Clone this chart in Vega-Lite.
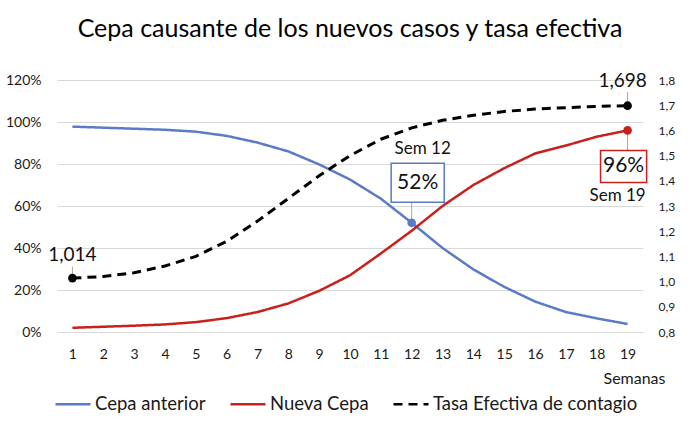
{
  "$schema": "https://vega.github.io/schema/vega-lite/v6.json",
  "width": 586,
  "height": 252,
  "autosize": {"type": "none"},
  "padding": {"left": 57, "top": 80, "right": 57, "bottom": 98},
  "background": "white",
  "title": {
    "text": "Cepa causante de los nuevos casos y tasa efectiva",
    "fontSize": 25,
    "fontWeight": "normal",
    "font": "Lato",
    "color": "#000000",
    "anchor": "middle",
    "offset": 30
  },
  "config": {
    "font": "Lato",
    "view": {"stroke": null},
    "axis": {"title": null, "labelColor": "#1a1a1a", "domain": false, "ticks": false},
    "text": {"color": "#111111", "font": "Lato"}
  },
  "datasets": {
    "series": [
      {"semana": 1, "serie": "Cepa anterior", "valor": 0.978},
      {"semana": 2, "serie": "Cepa anterior", "valor": 0.973},
      {"semana": 3, "serie": "Cepa anterior", "valor": 0.968},
      {"semana": 4, "serie": "Cepa anterior", "valor": 0.963},
      {"semana": 5, "serie": "Cepa anterior", "valor": 0.954},
      {"semana": 6, "serie": "Cepa anterior", "valor": 0.934},
      {"semana": 7, "serie": "Cepa anterior", "valor": 0.902},
      {"semana": 8, "serie": "Cepa anterior", "valor": 0.86},
      {"semana": 9, "serie": "Cepa anterior", "valor": 0.798},
      {"semana": 10, "serie": "Cepa anterior", "valor": 0.726},
      {"semana": 11, "serie": "Cepa anterior", "valor": 0.635},
      {"semana": 12, "serie": "Cepa anterior", "valor": 0.52},
      {"semana": 13, "serie": "Cepa anterior", "valor": 0.4},
      {"semana": 14, "serie": "Cepa anterior", "valor": 0.298},
      {"semana": 15, "serie": "Cepa anterior", "valor": 0.215},
      {"semana": 16, "serie": "Cepa anterior", "valor": 0.145},
      {"semana": 17, "serie": "Cepa anterior", "valor": 0.095},
      {"semana": 18, "serie": "Cepa anterior", "valor": 0.065},
      {"semana": 19, "serie": "Cepa anterior", "valor": 0.038},
      {"semana": 1, "serie": "Nueva Cepa", "valor": 0.02},
      {"semana": 2, "serie": "Nueva Cepa", "valor": 0.025},
      {"semana": 3, "serie": "Nueva Cepa", "valor": 0.03},
      {"semana": 4, "serie": "Nueva Cepa", "valor": 0.036},
      {"semana": 5, "serie": "Nueva Cepa", "valor": 0.047},
      {"semana": 6, "serie": "Nueva Cepa", "valor": 0.066},
      {"semana": 7, "serie": "Nueva Cepa", "valor": 0.095},
      {"semana": 8, "serie": "Nueva Cepa", "valor": 0.136},
      {"semana": 9, "serie": "Nueva Cepa", "valor": 0.196},
      {"semana": 10, "serie": "Nueva Cepa", "valor": 0.27},
      {"semana": 11, "serie": "Nueva Cepa", "valor": 0.374},
      {"semana": 12, "serie": "Nueva Cepa", "valor": 0.482},
      {"semana": 13, "serie": "Nueva Cepa", "valor": 0.6},
      {"semana": 14, "serie": "Nueva Cepa", "valor": 0.7},
      {"semana": 15, "serie": "Nueva Cepa", "valor": 0.78},
      {"semana": 16, "serie": "Nueva Cepa", "valor": 0.85},
      {"semana": 17, "serie": "Nueva Cepa", "valor": 0.888},
      {"semana": 18, "serie": "Nueva Cepa", "valor": 0.93},
      {"semana": 19, "serie": "Nueva Cepa", "valor": 0.96},
      {"semana": 1, "serie": "Tasa Efectiva de contagio", "valor": 1.014},
      {"semana": 2, "serie": "Tasa Efectiva de contagio", "valor": 1.02},
      {"semana": 3, "serie": "Tasa Efectiva de contagio", "valor": 1.035},
      {"semana": 4, "serie": "Tasa Efectiva de contagio", "valor": 1.062},
      {"semana": 5, "serie": "Tasa Efectiva de contagio", "valor": 1.1},
      {"semana": 6, "serie": "Tasa Efectiva de contagio", "valor": 1.16},
      {"semana": 7, "serie": "Tasa Efectiva de contagio", "valor": 1.24},
      {"semana": 8, "serie": "Tasa Efectiva de contagio", "valor": 1.33},
      {"semana": 9, "serie": "Tasa Efectiva de contagio", "valor": 1.42},
      {"semana": 10, "serie": "Tasa Efectiva de contagio", "valor": 1.5},
      {"semana": 11, "serie": "Tasa Efectiva de contagio", "valor": 1.565},
      {"semana": 12, "serie": "Tasa Efectiva de contagio", "valor": 1.61},
      {"semana": 13, "serie": "Tasa Efectiva de contagio", "valor": 1.64},
      {"semana": 14, "serie": "Tasa Efectiva de contagio", "valor": 1.66},
      {"semana": 15, "serie": "Tasa Efectiva de contagio", "valor": 1.675},
      {"semana": 16, "serie": "Tasa Efectiva de contagio", "valor": 1.685},
      {"semana": 17, "serie": "Tasa Efectiva de contagio", "valor": 1.69},
      {"semana": 18, "serie": "Tasa Efectiva de contagio", "valor": 1.695},
      {"semana": 19, "serie": "Tasa Efectiva de contagio", "valor": 1.698}
    ],
    "notas": [
      {"id": "azul", "semana": 12, "valor": 0.52, "valor2": 0.615, "texto": "52%", "sem": "Sem 12"},
      {"id": "rojo", "semana": 19, "valor": 0.96, "valor2": 0.862, "texto": "96%", "sem": "Sem 19"},
      {"id": "ini", "semana": 1, "valor": 1.014, "valor2": 1.06, "texto": "1,014", "sem": ""},
      {"id": "fin", "semana": 19, "valor": 1.698, "valor2": 1.752, "texto": "1,698", "sem": ""}
    ]
  },
  "layer": [
    {
      "encoding": {
        "x": {
          "field": "semana", "type": "ordinal",
          "scale": {"type": "point", "padding": 0.5},
          "axis": {
            "labelAngle": 0, "labelFontSize": 14, "labelPadding": 15, "grid": false,
            "title": "Semanas", "titleFontSize": 16, "titleFontWeight": "normal",
            "titleColor": "#1a1a1a", "titleAnchor": "end", "titleAlign": "right",
            "titleX": 608, "titleY": 46, "titleBaseline": "middle"
          }
        },
        "y": {
          "field": "valor", "type": "quantitative",
          "scale": {"domain": [0, 1.2], "nice": false, "zero": false},
          "axis": {
            "values": [0, 0.2, 0.4, 0.6, 0.8, 1.0, 1.2], "format": ".0%",
            "grid": true, "gridColor": "#D9D9D9", "labelFontSize": 14, "labelPadding": 16
          }
        }
      },
      "layer": [
        {
          "data": {"name": "series"},
          "transform": [{"filter": "datum.serie !== 'Tasa Efectiva de contagio'"}],
          "mark": {"type": "line", "strokeWidth": 2.5},
          "encoding": {
            "color": {
              "field": "serie", "type": "nominal",
              "scale": {"domain": ["Cepa anterior", "Nueva Cepa", "Tasa Efectiva de contagio"], "range": ["#5A7BC6", "#C8201D", "#000000"]},
              "legend": {
                "title": null, "orient": "none", "direction": "horizontal",
                "legendX": -3, "legendY": 305, "labelFontSize": 18.5, "labelColor": "#1a1a1a",
                "labelLimit": 500, "symbolType": "stroke", "symbolSize": 1225, "symbolStrokeWidth": 2.5,
                "labelOffset": 3, "columnPadding": 19
              }
            },
            "strokeDash": {
              "field": "serie", "type": "nominal",
              "scale": {"domain": ["Cepa anterior", "Nueva Cepa", "Tasa Efectiva de contagio"], "range": [[1, 0], [1, 0], [9, 6]]},
              "legend": {
                "title": null, "orient": "none", "direction": "horizontal",
                "legendX": -3, "legendY": 305, "labelFontSize": 18.5, "labelColor": "#1a1a1a",
                "labelLimit": 500, "symbolType": "stroke", "symbolSize": 1225, "symbolStrokeWidth": 2.5,
                "labelOffset": 3, "columnPadding": 19
              }
            }
          }
        },
        {
          "data": {"name": "notas"},
          "transform": [{"filter": "datum.id === 'azul' || datum.id === 'rojo'"}],
          "mark": {"type": "rule", "color": "#A6A6A6", "strokeWidth": 1},
          "encoding": {"y2": {"field": "valor2"}}
        },
        {
          "data": {"name": "notas"},
          "transform": [{"filter": "datum.id === 'azul'"}],
          "mark": {"type": "point", "filled": true, "opacity": 1, "size": 75, "color": "#5A7BC6"}
        },
        {
          "data": {"name": "notas"},
          "transform": [{"filter": "datum.id === 'rojo'"}],
          "mark": {"type": "point", "filled": true, "opacity": 1, "size": 75, "color": "#C8201D"}
        },
        {
          "data": {"name": "notas"},
          "transform": [{"filter": "datum.id === 'azul'"}],
          "mark": {"type": "point", "shape": "M-1.36,-1L1.36,-1L1.36,1L-1.36,1Z", "size": 1521, "filled": false, "fill": "white", "fillOpacity": 1, "stroke": "#5A7BC6", "strokeWidth": 1.5, "opacity": 1, "xOffset": 6, "yOffset": -40}
        },
        {
          "data": {"name": "notas"},
          "transform": [{"filter": "datum.id === 'rojo'"}],
          "mark": {"type": "point", "shape": "M-1.44,-1L1.44,-1L1.44,1L-1.44,1Z", "size": 1024, "filled": false, "fill": "white", "fillOpacity": 1, "stroke": "#C8201D", "strokeWidth": 1.5, "opacity": 1, "xOffset": -4, "yOffset": 36}
        },
        {
          "data": {"name": "notas"},
          "transform": [{"filter": "datum.id === 'azul'"}],
          "mark": {"type": "text", "fontSize": 21, "dx": 6, "dy": -40, "baseline": "middle"},
          "encoding": {"text": {"field": "texto"}}
        },
        {
          "data": {"name": "notas"},
          "transform": [{"filter": "datum.id === 'azul'"}],
          "mark": {"type": "text", "fontSize": 17, "dx": 11, "dy": -74, "baseline": "middle"},
          "encoding": {"text": {"field": "sem"}}
        },
        {
          "data": {"name": "notas"},
          "transform": [{"filter": "datum.id === 'rojo'"}],
          "mark": {"type": "text", "fontSize": 21, "dx": -4, "dy": 36, "baseline": "middle"},
          "encoding": {"text": {"field": "texto"}}
        },
        {
          "data": {"name": "notas"},
          "transform": [{"filter": "datum.id === 'rojo'"}],
          "mark": {"type": "text", "fontSize": 17, "dx": -10, "dy": 66, "baseline": "middle"},
          "encoding": {"text": {"field": "sem"}}
        }
      ]
    },
    {
      "encoding": {
        "x": {"field": "semana", "type": "ordinal"},
        "y": {
          "field": "valor", "type": "quantitative",
          "scale": {"domain": [0.8, 1.8], "nice": false, "zero": false},
          "axis": {
            "orient": "right", "values": [0.8, 0.9, 1.0, 1.1, 1.2, 1.3, 1.4, 1.5, 1.6, 1.7, 1.8],
            "labelExpr": "replace(format(datum.value, '.1f'), '.', ',')",
            "labelOverlap": false, "labelBound": false,
            "grid": false, "labelFontSize": 12, "labelPadding": 15
          }
        }
      },
      "layer": [
        {
          "data": {"name": "series"},
          "transform": [{"filter": "datum.serie === 'Tasa Efectiva de contagio'"}],
          "mark": {"type": "line", "strokeWidth": 3},
          "encoding": {
            "color": {"field": "serie", "type": "nominal"},
            "strokeDash": {"field": "serie", "type": "nominal"}
          }
        },
        {
          "data": {"name": "notas"},
          "transform": [{"filter": "datum.id === 'ini' || datum.id === 'fin'"}],
          "mark": {"type": "rule", "color": "#A6A6A6", "strokeWidth": 1},
          "encoding": {"y2": {"field": "valor2"}}
        },
        {
          "data": {"name": "notas"},
          "transform": [{"filter": "datum.id === 'ini' || datum.id === 'fin'"}],
          "mark": {"type": "point", "filled": true, "opacity": 1, "size": 75, "color": "#000000"}
        },
        {
          "data": {"name": "notas"},
          "transform": [{"filter": "datum.id === 'ini'"}],
          "mark": {"type": "text", "fontSize": 19, "dx": 0, "dy": -23, "baseline": "middle"},
          "encoding": {"text": {"field": "texto"}}
        },
        {
          "data": {"name": "notas"},
          "transform": [{"filter": "datum.id === 'fin'"}],
          "mark": {"type": "text", "fontSize": 19, "dx": -5, "dy": -25, "baseline": "middle"},
          "encoding": {"text": {"field": "texto"}}
        }
      ]
    }
  ],
  "resolve": {"scale": {"y": "independent"}}
}
